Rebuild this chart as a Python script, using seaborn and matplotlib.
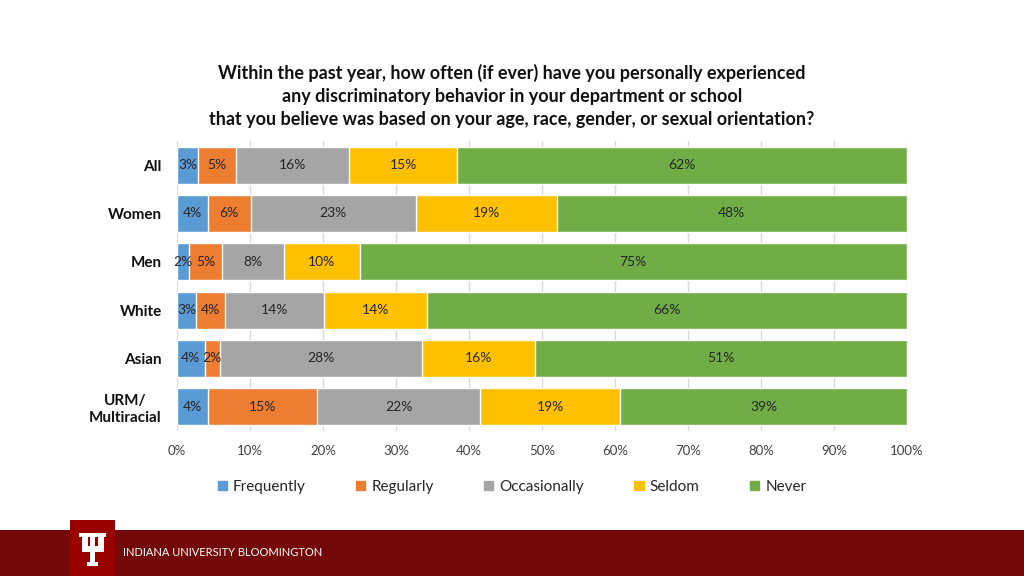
import matplotlib
matplotlib.use('Agg')
import matplotlib.pyplot as plt
from matplotlib.patches import Rectangle
import pandas as pd
import seaborn as sns

# Data (percent of respondents)
groups = ['All', 'Women', 'Men', 'White', 'Asian', 'URM/\nMultiracial']
responses = ['Frequently', 'Regularly', 'Occasionally', 'Seldom', 'Never']
frequently = [2.9, 4.2, 1.6, 2.6, 3.8, 4.2]
regularly = [5.2, 5.9, 4.6, 4.0, 2.1, 15.0]
occasionally = [15.5, 22.6, 8.4, 13.6, 27.6, 22.3]
seldom = [14.8, 19.3, 10.4, 14.0, 15.6, 19.2]
never = [61.6, 48.0, 75.0, 65.8, 50.9, 39.3]
colors = ['#5B9BD5', '#ED7D31', '#A5A5A5', '#FFC000', '#70AD47']
xticks = [0, 10, 20, 30, 40, 50, 60, 70, 80, 90, 100]

title = ('Within the past year, how often (if ever) have you personally experienced\n'
         'any discriminatory behavior in your department or school\n'
         'that you believe was based on your age, race, gender, or sexual orientation?')

df = pd.DataFrame({'group': groups, 'Frequently': frequently, 'Regularly': regularly,
                   'Occasionally': occasionally, 'Seldom': seldom, 'Never': never})
cum = df[responses].cumsum(axis=1)

sns.set_style('white')
plt.rcParams['font.family'] = ['Lato', 'DejaVu Sans']

W, H = 1024, 576
fig = plt.figure(figsize=(W / 100, H / 100), dpi=100)
ax = fig.add_axes([177 / W, 1 - 431 / H, 730 / W, 290 / H])

# stacked bars: draw cumulative totals from the outermost segment inwards
for resp, col in reversed(list(zip(responses, colors))):
    sns.barplot(x=cum[resp], y=df['group'], color=col, orient='h', width=0.76,
                saturation=1, ax=ax, zorder=2)

# segment labels
for i in range(len(groups)):
    prev = 0
    for resp in responses:
        v = df[resp][i]
        ax.text(prev + v / 2, i, f'{round(v)}%', ha='center', va='center',
                fontsize=10, color='#262626', zorder=3)
        prev += v

ax.set_xlim(0, 100)
ax.set_ylim(5.5, -0.5)
ax.set_xticks(xticks)
ax.set_xticklabels([f'{t}%' for t in xticks], fontsize=9.5, color='#404040')
ax.tick_params(axis='x', length=0, pad=10)
ax.tick_params(axis='y', length=0, pad=11)
for lab in ax.get_yticklabels():
    lab.set_fontweight('bold')
    lab.set_fontsize(11)
    lab.set_color('#111111')
    lab.set_ha('right')
    lab.set_multialignment('center')
ax.set_xlabel('')
ax.set_ylabel('')
ax.grid(axis='x', color='#D9D9D9', linewidth=1, zorder=0)
ax.set_axisbelow(True)
for s in ax.spines.values():
    s.set_visible(False)

fig.text(512 / W, 1 - 96 / H, title, ha='center', va='center', fontsize=13,
         fontweight='bold', linespacing=1.45, color='#111111')

handles = [Rectangle((0, 0), 1, 1, color=c) for c in colors]
fig.legend(handles, responses, loc='center', bbox_to_anchor=(512 / W, 1 - 487 / H),
           ncol=5, frameon=False, fontsize=11, handlelength=0.6, handleheight=0.6,
           handletextpad=0.4, columnspacing=3.3, labelcolor='#262626')

# footer banner
def px(x, y, w, h, color):
    fig.patches.append(Rectangle((x / W, 1 - (y + h) / H), w / W, h / H,
                                 transform=fig.transFigure, color=color, zorder=1,
                                 linewidth=0))

px(0, 530, W, 46, '#730808')
px(70, 520, 45, 56, '#990000')
white = 'white'
px(79, 533, 11, 4, white)
px(81.5, 533, 6, 19, white)
px(95, 533, 11, 4, white)
px(97.5, 533, 6, 19, white)
px(88, 533, 9, 4, white)
px(90, 533, 5, 31, white)
px(81.5, 546, 22, 6, white)
px(87, 562, 11, 4, white)
fig.text(123 / W, 1 - 553 / H, 'INDIANA UNIVERSITY BLOOMINGTON', ha='left', va='center',
         fontsize=8, color='white')

fig.savefig('out.png', dpi=100)
